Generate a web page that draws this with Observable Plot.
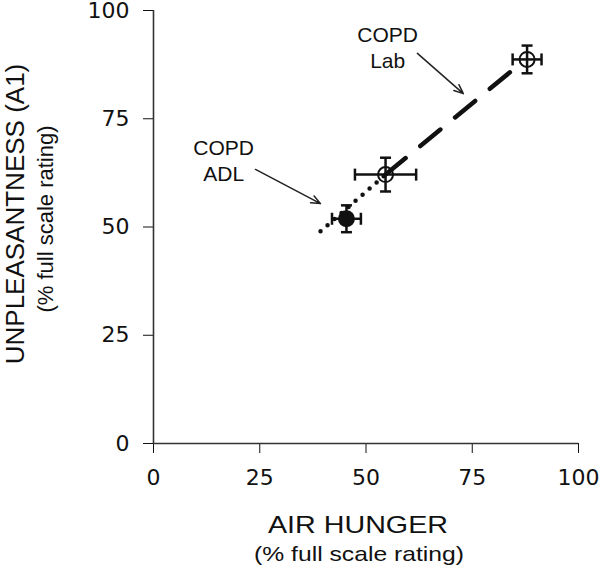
<!DOCTYPE html>
<html>
<head>
<meta charset="utf-8">
<script src="https://cdn.jsdelivr.net/npm/d3@7"></script>
<script src="https://cdn.jsdelivr.net/npm/@observablehq/plot@0.6"></script>
<style>
  html, body { margin: 0; padding: 0; background: #fff; }
</style>
</head>
<body>
<div id="chart"></div>
<script>
// Data
const conditions = ["COPD ADL", "COPD Lab 1", "COPD Lab 2"];
const airHunger = [45.4, 54.6, 87.9];
const airHungerErr = [3.4, 7.2, 3.4];
const unpleasantness = [51.9, 62.1, 88.7];
const unpleasantnessErr = [3.1, 3.9, 3.2];
const filled = [true, false, false];

const dottedLine = [{x: 39.3, y: 49.0}, {x: 54.6, y: 62.1}];
const dashedLine = [{x: 54.6, y: 62.1}, {x: 85.2, y: 86.8}];

const annotations = [
  {label: "COPD\nADL", x: 16.5, y: 65.6, ax1: 24, ay1: 63.3, ax2: 39.3, ay2: 55.4},
  {label: "COPD\nLab", x: 55.1, y: 91.7, ax1: 62.1, ay1: 90.1, ax2: 72.9, ay2: 80.8}
];

const tickValues = [0, 25, 50, 75, 100];
const xTitle = "AIR HUNGER";
const yTitle = "UNPLEASANTNESS (A1)";
const unitTitle = "(% full scale rating)";

const points = conditions.map((c, i) => ({
  name: c, x: airHunger[i], y: unpleasantness[i],
  ex: airHungerErr[i], ey: unpleasantnessErr[i], filled: filled[i]
}));

// custom symbols for error-bar caps
const hCap = {draw(ctx, size) { const r = Math.sqrt(size / Math.PI); ctx.moveTo(-r, 0); ctx.lineTo(r, 0); }};
const vCap = {draw(ctx, size) { const r = Math.sqrt(size / Math.PI); ctx.moveTo(0, -r); ctx.lineTo(0, r); }};

const capsX = points.flatMap(d => [{x: d.x - d.ex, y: d.y}, {x: d.x + d.ex, y: d.y}]);
const capsY = points.flatMap(d => [{x: d.x, y: d.y - d.ey}, {x: d.x, y: d.y + d.ey}]);

const font = "Liberation Sans, Arial, sans-serif";

const chart = Plot.plot({
  width: 600,
  height: 569,
  marginLeft: 153,
  marginRight: 22,
  marginTop: 10,
  marginBottom: 126,
  style: {fontFamily: "DejaVu Sans", fontSize: "22px", color: "#111", background: "#fff"},
  x: {domain: [0, 100], ticks: tickValues, tickSize: 10, tickPadding: 16, label: null},
  y: {domain: [0, 100], ticks: tickValues, tickSize: 10, tickPadding: 14, label: null},
  marks: [
    Plot.ruleX([0], {stroke: "#333", strokeWidth: 1.6}),
    Plot.ruleY([0], {stroke: "#333", strokeWidth: 1.6}),
    // regression lines
    Plot.line(dottedLine, {x: "x", y: "y", stroke: "#111", strokeWidth: 4.5, strokeDasharray: "0,9.3", strokeLinecap: "round"}),
    Plot.line(dashedLine, {x: "x", y: "y", stroke: "#111", strokeWidth: 4.5, strokeDasharray: "26,19", strokeLinecap: "round"}),
    // error bars
    Plot.ruleY(points, {y: "y", x1: d => d.x - d.ex, x2: d => d.x + d.ex, stroke: "#111", strokeWidth: 2.5}),
    Plot.ruleX(points, {x: "x", y1: d => d.y - d.ey, y2: d => d.y + d.ey, stroke: "#111", strokeWidth: 2.5}),
    Plot.dot(capsX, {x: "x", y: "y", symbol: vCap, r: 6, stroke: "#111", strokeWidth: 2.5, fill: "none"}),
    Plot.dot(capsY, {x: "x", y: "y", symbol: hCap, r: 5.5, stroke: "#111", strokeWidth: 2.5, fill: "none"}),
    // points
    Plot.dot(points, {x: "x", y: "y", r: 7.5, stroke: "#111", strokeWidth: 2, fill: d => d.filled ? "#111" : "none"}),
    // annotations
    Plot.arrow(annotations, {x1: "ax1", y1: "ay1", x2: "ax2", y2: "ay2", stroke: "#222", strokeWidth: 1.5, headLength: 10, headAngle: 45}),
    Plot.text(annotations, {x: "x", y: "y", text: "label", fontFamily: font, fontSize: 21, lineHeight: 1.25, fill: "#111"}),
    // axis titles
    Plot.text([xTitle], {frameAnchor: "bottom", textAnchor: "middle", lineAnchor: "middle", dy: 82, dx: -8, fontFamily: font, fontSize: 24, fill: "#111"}),
    Plot.text([unitTitle], {frameAnchor: "bottom", textAnchor: "middle", lineAnchor: "middle", dy: 111, dx: -7, fontFamily: font, fontSize: 21, fill: "#111"}),
    Plot.text([yTitle], {frameAnchor: "left", textAnchor: "middle", lineAnchor: "middle", rotate: -90, dx: -138, dy: -13, fontFamily: font, fontSize: 26, fill: "#111"}),
    Plot.text([unitTitle], {frameAnchor: "left", textAnchor: "middle", lineAnchor: "middle", rotate: -90, dx: -108, dy: -8, fontFamily: font, fontSize: 22, fill: "#111"})
  ]
});

// the reference's x-axis titles are drawn horizontally wide: stretch them to match
d3.select(chart).selectAll("text").each(function() {
  const t = this.textContent;
  const rotated = (this.getAttribute("transform") || "").includes("rotate");
  if (rotated) return;
  if (t === xTitle) { this.setAttribute("textLength", 180); this.setAttribute("lengthAdjust", "spacingAndGlyphs"); }
  if (t === unitTitle) { this.setAttribute("textLength", 210); this.setAttribute("lengthAdjust", "spacingAndGlyphs"); }
});

document.getElementById("chart").appendChild(chart);
</script>
</body>
</html>
